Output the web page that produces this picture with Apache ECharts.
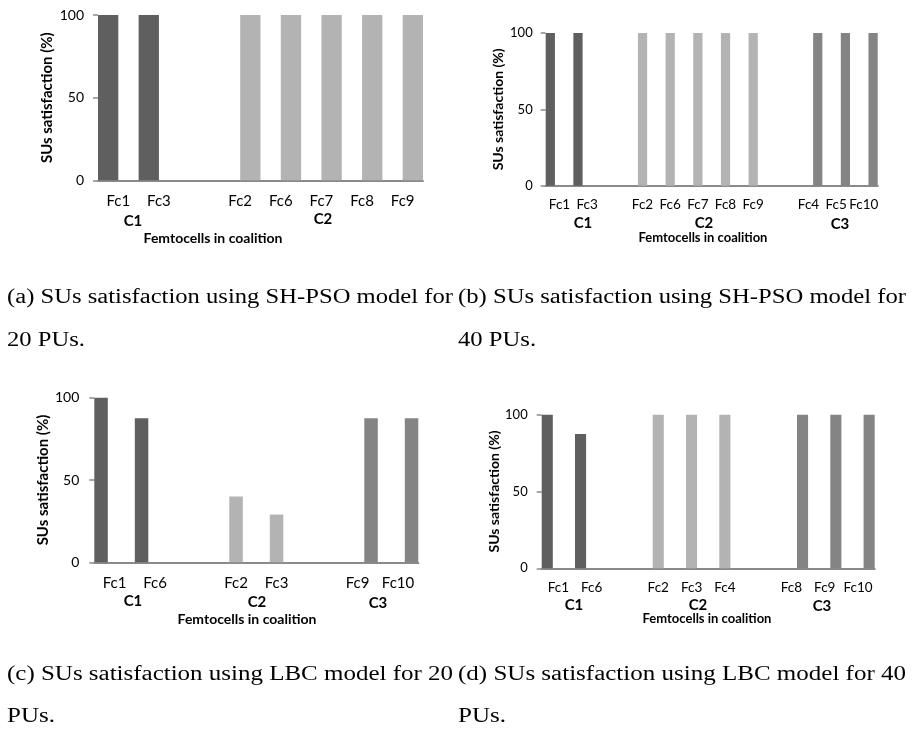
<!DOCTYPE html>
<html>
<head>
<meta charset="utf-8">
<script src="https://cdn.jsdelivr.net/npm/echarts@6/dist/echarts.min.js"></script>
<style>html,body{margin:0;padding:0;background:#fff}#c{width:912px;height:731px}</style>
</head>
<body>
<div id="c"></div>
<script>
// ---------- data ----------
const yTicks = [0, 50, 100];
const yTitle = 'SUs satisfaction (%)';
const xTitle = 'Femtocells in coalition';
const groups = ['C1', 'C2', 'C3'];

// (a) SH-PSO, 20 PUs
const catsA = ['Fc1', 'Fc3', ' ', 'Fc2', 'Fc6', 'Fc7', 'Fc8', 'Fc9'];
const a_C1 = [100, 100, null, null, null, null, null, null];
const a_C2 = [null, null, null, 100, 100, 100, 100, 100];

// (b) SH-PSO, 40 PUs
const catsB = ['Fc1', 'Fc3', ' ', 'Fc2', 'Fc6', 'Fc7', 'Fc8', 'Fc9', '  ', 'Fc4', 'Fc5', 'Fc10'];
const b_C1 = [100, 100, null, null, null, null, null, null, null, null, null, null];
const b_C2 = [null, null, null, 100, 100, 100, 100, 100, null, null, null, null];
const b_C3 = [null, null, null, null, null, null, null, null, null, 100, 100, 100];

// (c) LBC, 20 PUs
const catsC = ['Fc1', 'Fc6', ' ', 'Fc2', 'Fc3', '  ', 'Fc9', 'Fc10'];
const c_C1 = [100, 87.5, null, null, null, null, null, null];
const c_C2 = [null, null, null, 40, 29, null, null, null];
const c_C3 = [null, null, null, null, null, null, 87.5, 87.5];

// (d) LBC, 40 PUs
const catsD = ['Fc1', 'Fc6', ' ', 'Fc2', 'Fc3', 'Fc4', '  ', 'Fc8', 'Fc9', 'Fc10'];
const d_C1 = [100, 87.5, null, null, null, null, null, null, null, null];
const d_C2 = [null, null, null, 100, 100, 100, null, null, null, null];
const d_C3 = [null, null, null, null, null, null, null, 100, 100, 100];

const captions = [
  ['(a) SUs satisfaction using SH-PSO model for', '20 PUs.'],
  ['(b) SUs satisfaction using SH-PSO model for', '40 PUs.'],
  ['(c) SUs satisfaction using LBC model for 20', 'PUs.'],
  ['(d) SUs satisfaction using LBC model for 40', 'PUs.']
];

// ---------- layout ----------
const colors = ['#5f5f5f', '#b3b3b3', '#848484'];
const axisCol = '#8a8a8a';
const SANS = 'Lato, "Open Sans", sans-serif';
const SERIF = '"Liberation Serif", "DejaVu Serif", serif';

const panels = [
  { cats: catsA, series: [a_C1, a_C2], grid: { left: 98, top: 15, width: 325, height: 165.3 },
    fs: 15, tfs: 14, nfs: 15, nameGap: 43, yLabM: 14, xLabM: 13,
    groupPos: [[133, 221], [323, 219]], xTitlePos: [213, 238] },
  { cats: catsB, series: [b_C1, b_C2, b_C3], grid: { left: 545.7, top: 33, width: 332, height: 152.7 },
    fs: 13.5, tfs: 13, nfs: 14, nameGap: 40, yLabM: 13, xLabM: 12,
    groupPos: [[583, 223], [704, 223], [840, 224]], xTitlePos: [703, 238] },
  { cats: catsC, series: [c_C1, c_C2, c_C3], grid: { left: 94.3, top: 397.7, width: 324, height: 164.6 },
    fs: 15, tfs: 14, nfs: 15, nameGap: 43, yLabM: 15, xLabM: 13,
    groupPos: [[133, 601], [257, 602], [378, 603]], xTitlePos: [247, 619] },
  { cats: catsD, series: [d_C1, d_C2, d_C3], grid: { left: 541.7, top: 414.7, width: 333, height: 153.6 },
    fs: 13.5, tfs: 13, nfs: 14, nameGap: 39, yLabM: 14, xLabM: 12,
    groupPos: [[574, 605], [698, 605], [822, 606]], xTitlePos: [707, 619] }
];

const capLayout = [
  { x: 7, y1: 298, y2: 341, w: 446 },
  { x: 458, y1: 298, y2: 341, w: 448 },
  { x: 7, y1: 675, y2: 717, w: 446 },
  { x: 458, y1: 675, y2: 717, w: 448 }
];
const capFont = '20px ' + SERIF;

const option = {
  animation: false,
  backgroundColor: '#fff',
  grid: [], xAxis: [], yAxis: [], series: [], graphic: []
};

panels.forEach((p, i) => {
  option.grid.push(Object.assign({ containLabel: false }, p.grid));
  option.xAxis.push({
    type: 'category', gridIndex: i, data: p.cats,
    axisLine: { show: true, lineStyle: { color: axisCol, width: 2 } },
    axisTick: { show: false },
    axisLabel: { interval: 0, margin: p.xLabM, fontFamily: SANS, fontSize: p.fs, color: '#000' },
    splitLine: { show: false }
  });
  option.yAxis.push({
    type: 'value', gridIndex: i, min: yTicks[0], max: yTicks[yTicks.length - 1],
    interval: yTicks[1] - yTicks[0],
    name: yTitle, nameLocation: 'middle', nameGap: p.nameGap, nameRotate: 90,
    nameTextStyle: { fontFamily: SANS, fontWeight: 'bold', fontSize: p.nfs, color: '#000' },
    axisLine: { show: false },
    axisTick: { show: true, length: 5, lineStyle: { color: axisCol, width: 1.5 } },
    axisLabel: { margin: p.yLabM, fontFamily: SANS, fontSize: p.tfs, color: '#000' },
    splitLine: { show: false }
  });
  p.series.forEach((d, k) => {
    option.series.push({
      type: 'bar', xAxisIndex: i, yAxisIndex: i, data: d,
      barGap: '0%', barCategoryGap: '0%',
      itemStyle: { color: colors[k] },
      silent: true
    });
  });
  p.groupPos.forEach((g, k) => {
    option.graphic.push({ type: 'text', x: g[0], y: g[1], silent: true,
      style: { text: groups[k], font: 'bold 15px ' + SANS, fill: '#000',
        textAlign: 'center', textVerticalAlign: 'middle' } });
  });
  option.graphic.push({ type: 'text', x: p.xTitlePos[0], y: p.xTitlePos[1], silent: true,
    style: { text: xTitle, font: 'bold ' + p.tfs + 'px ' + SANS, fill: '#000',
      textAlign: 'center', textVerticalAlign: 'middle' } });
});

// caption widths: stretch the serif text to the justified line width of the reference
const mctx = document.createElement('canvas').getContext('2d');
mctx.font = capFont;
captions.forEach((c, i) => {
  const L = capLayout[i];
  const sx = L.w / mctx.measureText(c[0]).width;
  option.graphic.push({ type: 'text', x: L.x, y: L.y1, scaleX: sx, silent: true,
    style: { text: c[0], font: capFont, fill: '#000', textAlign: 'left', textVerticalAlign: 'middle' } });
  option.graphic.push({ type: 'text', x: L.x, y: L.y2, scaleX: sx, silent: true,
    style: { text: c[1], font: capFont, fill: '#000', textAlign: 'left', textVerticalAlign: 'middle' } });
});

const chart = echarts.init(document.getElementById('c'), null, { renderer: 'canvas' });
chart.setOption(option);
</script>
</body>
</html>
